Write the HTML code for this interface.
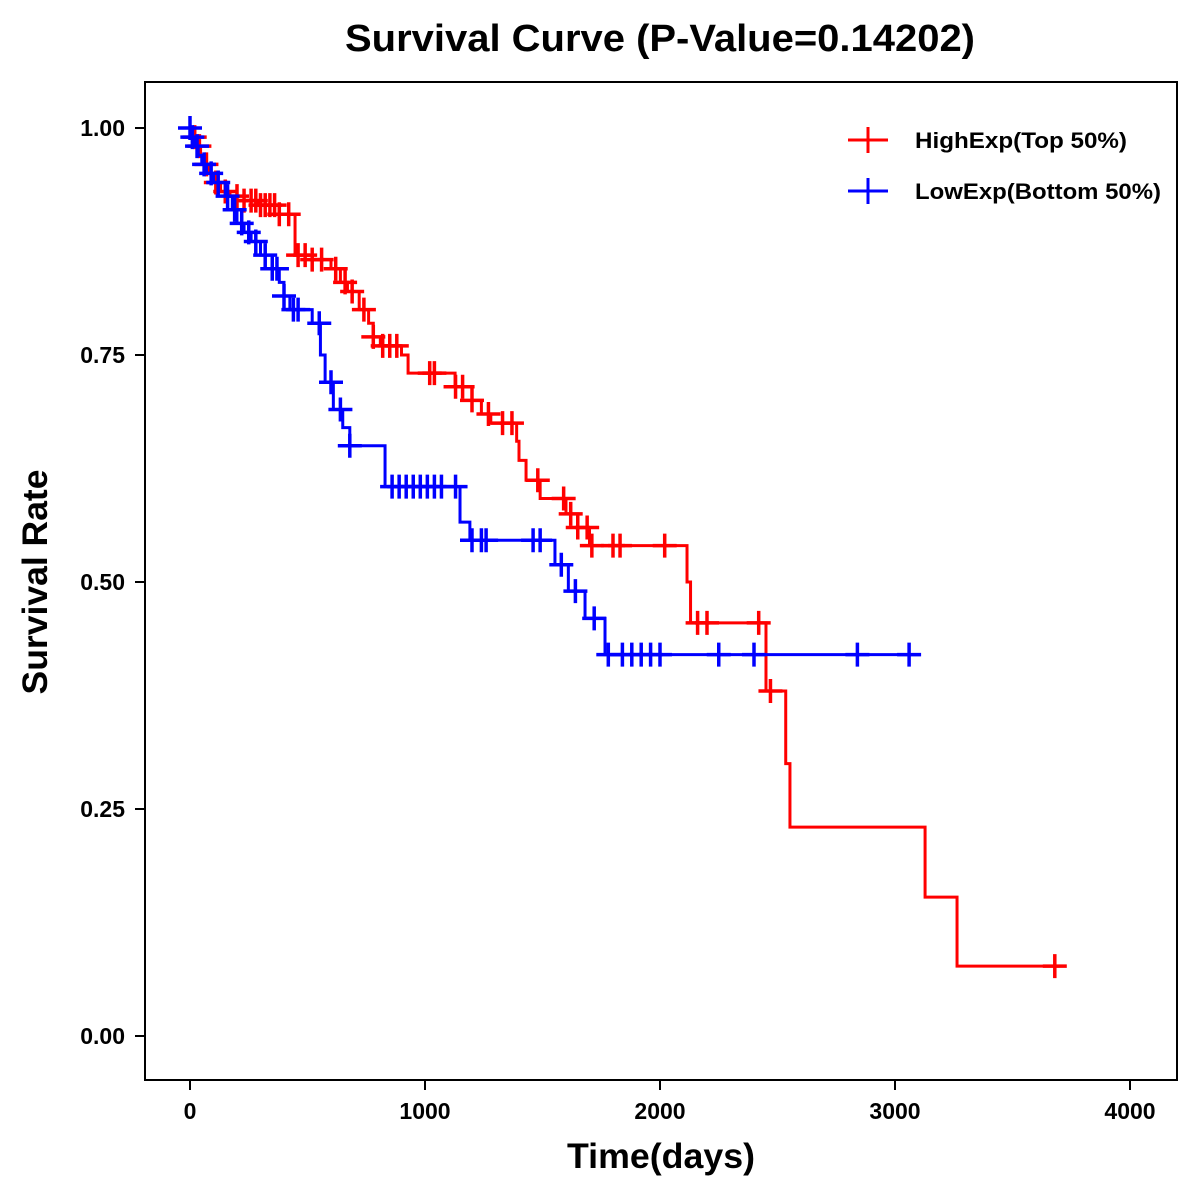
<!DOCTYPE html>
<html><head><meta charset="utf-8"><style>
body{margin:0;background:#fff;}
svg{display:block;font-family:"Liberation Sans",Arial,sans-serif;}
</style></head><body>
<svg id="chart" width="1200" height="1200">
<rect x="0" y="0" width="1200" height="1200" fill="#fff"/>
<text x="660" y="51" text-anchor="middle" font-size="38" font-weight="bold" textLength="630" lengthAdjust="spacingAndGlyphs">Survival Curve (P-Value=0.14202)</text>
<rect x="145" y="82" width="1032" height="998" fill="none" stroke="#000" stroke-width="2"/>
<g id="axes"></g>
<g id="series"></g>
<text x="661" y="1168" text-anchor="middle" font-size="35" font-weight="bold" textLength="188" lengthAdjust="spacingAndGlyphs">Time(days)</text>
<text transform="translate(47,582) rotate(-90)" text-anchor="middle" font-size="35" font-weight="bold" textLength="225" lengthAdjust="spacingAndGlyphs">Survival Rate</text>
<g>
<g>
<line x1="848" y1="140" x2="888" y2="140" stroke="#f00" stroke-width="3"/><line x1="868" y1="127" x2="868" y2="153" stroke="#f00" stroke-width="3"/>
<text x="915" y="148" font-size="22" font-weight="bold" textLength="212" lengthAdjust="spacingAndGlyphs">HighExp(Top 50%)</text></g>
<g>
<line x1="848" y1="191" x2="888" y2="191" stroke="#00f" stroke-width="3"/><line x1="868" y1="178" x2="868" y2="204" stroke="#00f" stroke-width="3"/>
<text x="915" y="199" font-size="22" font-weight="bold" textLength="246" lengthAdjust="spacingAndGlyphs">LowExp(Bottom 50%)</text></g>
</g>
</svg>
<script>
const xTicks=[0,1000,2000,3000,4000];
const yTicks=[0,0.25,0.5,0.75,1.0];
const yTickLabels=["0.00","0.25","0.50","0.75","1.00"];
const highTimes=[0,15,30,45,60,80,100,130,170,230,290,380,447,520,600,640,670,720,760,780,810,900,928,1128,1200,1240,1280,1390,1400,1430,1490,1600,1650,1700,2115,2130,2451,2535,2553,3128,3264];
const highSurv=[1.0,0.99,0.98,0.97,0.96,0.95,0.94,0.93,0.925,0.92,0.915,0.905,0.86,0.855,0.845,0.83,0.82,0.80,0.785,0.77,0.76,0.75,0.73,0.715,0.70,0.685,0.675,0.655,0.634,0.612,0.592,0.575,0.56,0.54,0.50,0.455,0.38,0.30,0.23,0.153,0.077];
const highCensor=[20,40,70,110,150,200,230,260,280,300,320,340,360,380,420,460,490,520,560,620,660,690,740,780,820,850,880,1020,1040,1130,1160,1200,1270,1330,1370,1480,1590,1620,1650,1690,1710,1800,1830,2020,2160,2200,2420,2470,3680];
const highEnd=3700;
const lowTimes=[0,10,20,35,50,70,100,150,180,200,230,260,300,350,380,400,425,520,555,575,610,650,680,830,1149,1191,1553,1610,1681,1766];
const lowSurv=[1,0.99,0.98,0.97,0.96,0.95,0.94,0.925,0.91,0.895,0.885,0.875,0.86,0.845,0.83,0.815,0.80,0.785,0.75,0.72,0.69,0.67,0.65,0.605,0.566,0.546,0.519,0.49,0.46,0.42];
const lowCensor=[0,10,30,60,90,120,160,190,220,250,280,320,350,370,400,440,460,550,600,640,680,860,890,920,950,980,1010,1040,1070,1130,1200,1240,1260,1460,1490,1580,1640,1720,1780,1840,1880,1920,1960,2000,2250,2400,2840,3060];
const lowEnd=3106;

const X=d=>190+d*0.235;
const Y=s=>1036-s*908;
const NS="http://www.w3.org/2000/svg";
const axes=document.getElementById('axes'), series=document.getElementById('series');
function mk(tag,attrs,parent){const e=document.createElementNS(NS,tag);for(const k in attrs)e.setAttribute(k,attrs[k]);parent.appendChild(e);return e;}
xTicks.forEach(t=>{
  const l=mk('line',{x1:X(t),x2:X(t),y1:1080,y2:1090,stroke:'#000','stroke-width':2},axes);
  
  
  const tx=mk('text',{x:X(t),y:1119,'text-anchor':'middle','font-size':23,'font-weight':'bold'},axes);
  tx.textContent=t;
  
  
});
yTicks.forEach((t,i)=>{
  const l=mk('line',{x1:135,x2:145,y1:Y(t),y2:Y(t),stroke:'#000','stroke-width':2},axes);
  
  
  const tx=mk('text',{x:125,y:Y(t)+8,'text-anchor':'end','font-size':23,'font-weight':'bold'},axes);
  tx.textContent=yTickLabels[i];
  
  
});
function survAt(times,surv,t){let s=surv[0];for(let i=0;i<times.length;i++){if(times[i]<=t)s=surv[i];}return s;}
function draw(times,surv,cens,end,color,name){
  let d='M'+X(times[0])+','+Y(surv[0]);
  for(let i=1;i<times.length;i++){d+=' H'+X(times[i])+' V'+Y(surv[i]);}
  d+=' H'+X(end);
  const p=mk('path',{d:d,fill:'none',stroke:color,'stroke-width':3},series);
  
  
  cens.forEach(c=>{
    const cx=X(c),cy=Y(survAt(times,surv,c));
    const g=mk('path',{d:`M${cx-12},${cy} H${cx+12} M${cx},${cy-12} V${cy+12}`,stroke:color,'stroke-width':3.5,fill:'none'},series);
    
    
  });
}
draw(highTimes,highSurv,highCensor,highEnd,'#f00','high-exp');
draw(lowTimes,lowSurv,lowCensor,lowEnd,'#00f','low-exp');
</script>
</body></html>
